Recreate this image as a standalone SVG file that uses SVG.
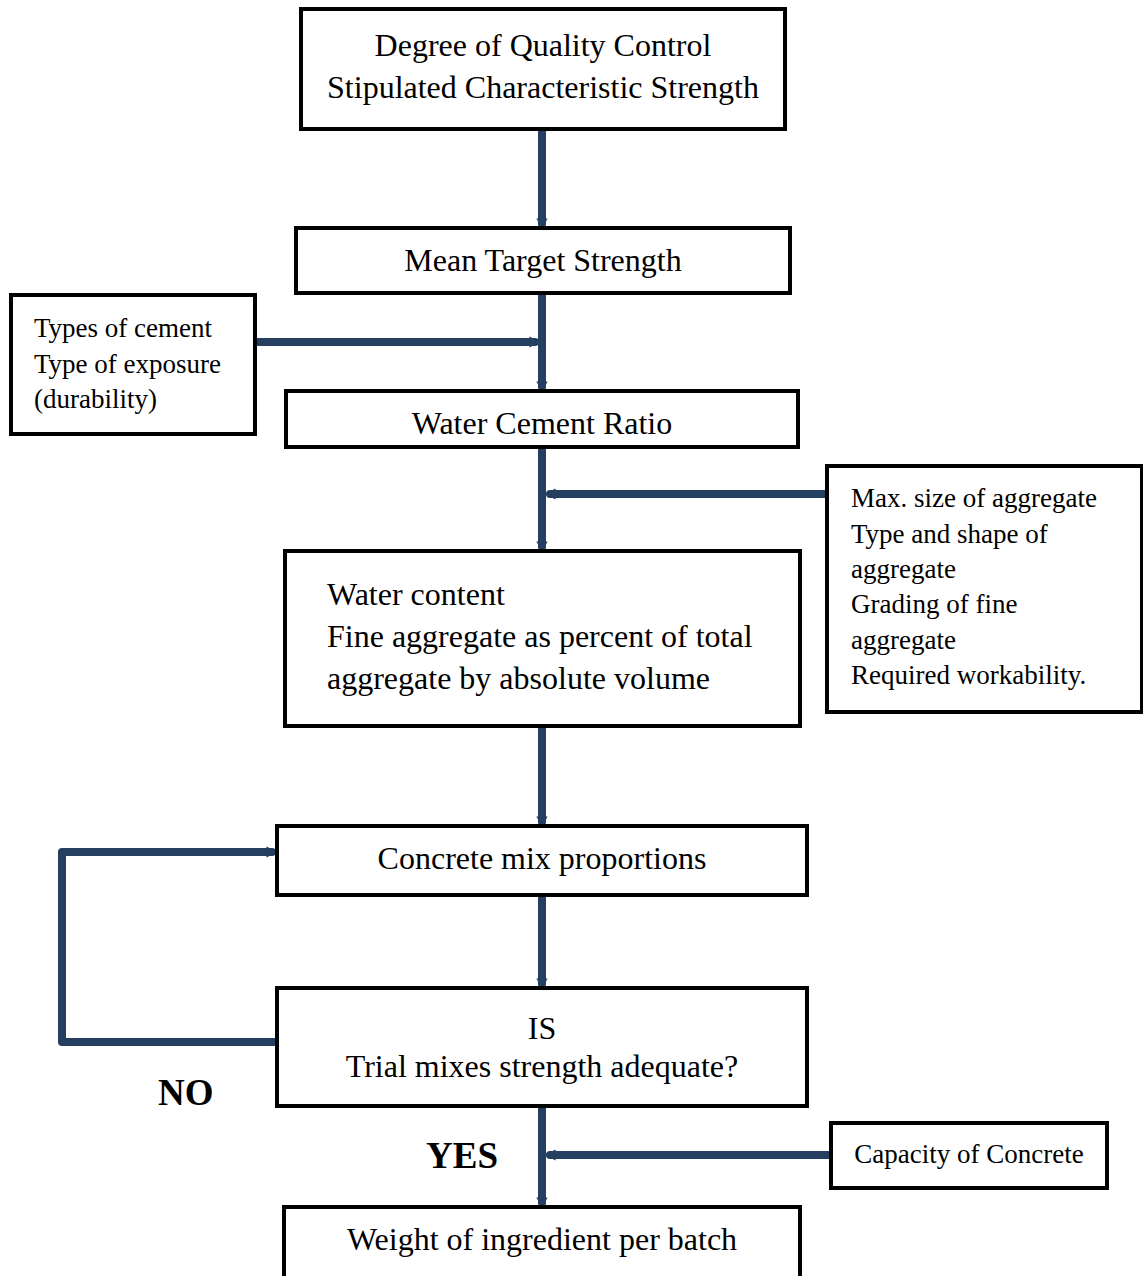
<svg xmlns="http://www.w3.org/2000/svg" width="1143" height="1276" viewBox="0 0 1143 1276">
<style>
.box{fill:#fff;stroke:#000;stroke-width:4}
.t{font-family:"Liberation Serif","Times New Roman",serif;font-size:32px;fill:#000}
.s{font-family:"Liberation Serif","Times New Roman",serif;font-size:27px;fill:#000}
.c{text-anchor:middle}
.b{font-family:"Liberation Serif","Times New Roman",serif;font-size:37px;font-weight:bold;fill:#000}
.ln{fill:none;stroke:#243f60;stroke-width:8;stroke-linecap:round;stroke-linejoin:round}
</style>
<defs>
<marker id="ah" viewBox="0 0 4 4" refX="2" refY="2" markerWidth="1.4" markerHeight="1.4" orient="auto" markerUnits="strokeWidth">
<path d="M0,0 L4,2 L0,4 z" fill="#243f60"/>
</marker>
</defs>
<g id="connectors">
<line class="ln" x1="542" y1="131" x2="542" y2="224" marker-end="url(#ah)"/>
<line class="ln" x1="542" y1="295" x2="542" y2="387" marker-end="url(#ah)"/>
<line class="ln" x1="257" y1="342" x2="535" y2="342" marker-end="url(#ah)"/>
<line class="ln" x1="542" y1="449" x2="542" y2="547" marker-end="url(#ah)"/>
<line class="ln" x1="825" y1="494" x2="550" y2="494" marker-end="url(#ah)"/>
<line class="ln" x1="542" y1="728" x2="542" y2="822" marker-end="url(#ah)"/>
<line class="ln" x1="542" y1="897" x2="542" y2="984" marker-end="url(#ah)"/>
<polyline class="ln" points="277,1042 62,1042 62,852 272,852" marker-end="url(#ah)"/>
<line class="ln" x1="542" y1="1108" x2="542" y2="1203" marker-end="url(#ah)"/>
<line class="ln" x1="829" y1="1155" x2="550" y2="1155" marker-end="url(#ah)"/>
</g>
<g id="n1"><rect class="box" x="301" y="9" width="484" height="120"/>
<text class="t c" x="543" y="56">Degree of Quality Control</text>
<text class="t c" x="543" y="98">Stipulated Characteristic Strength</text></g>
<g id="n2"><rect class="box" x="296" y="228" width="494" height="65"/>
<text class="t c" x="543" y="271">Mean Target Strength</text></g>
<g id="n3"><rect class="box" x="11" y="295" width="244" height="139"/>
<text class="s" x="34" y="337">Types of cement</text>
<text class="s" x="34" y="373">Type of exposure</text>
<text class="s" x="34" y="408">(durability)</text></g>
<g id="n4"><rect class="box" x="286" y="391" width="512" height="56"/>
<text class="t c" x="542" y="434">Water Cement Ratio</text></g>
<g id="n5"><rect class="box" x="827" y="466" width="315" height="246"/>
<text class="s" x="851" y="507">Max. size of aggregate</text>
<text class="s" x="851" y="543">Type and shape of</text>
<text class="s" x="851" y="578">aggregate</text>
<text class="s" x="851" y="613">Grading of fine</text>
<text class="s" x="851" y="649">aggregate</text>
<text class="s" x="851" y="684">Required workability.</text></g>
<g id="n6"><rect class="box" x="285" y="551" width="515" height="175"/>
<text class="t" x="327" y="605">Water content</text>
<text class="t" x="327" y="647">Fine aggregate as percent of total</text>
<text class="t" x="327" y="689">aggregate by absolute volume</text></g>
<g id="n7"><rect class="box" x="277" y="826" width="530" height="69"/>
<text class="t c" x="542" y="869">Concrete mix proportions</text></g>
<g id="n8"><rect class="box" x="277" y="988" width="530" height="118"/>
<text class="t c" x="542" y="1039">IS</text>
<text class="t c" x="542" y="1077">Trial mixes strength adequate?</text></g>
<g id="n9"><rect class="box" x="831" y="1123" width="276" height="65"/>
<text class="s c" x="969" y="1163">Capacity of Concrete</text></g>
<g id="n10"><rect class="box" x="284" y="1207" width="516" height="80"/>
<text class="t c" x="542" y="1250">Weight of ingredient per batch</text></g>
<text class="b" x="158" y="1105">NO</text>
<text class="b" x="426" y="1168">YES</text>
</svg>
